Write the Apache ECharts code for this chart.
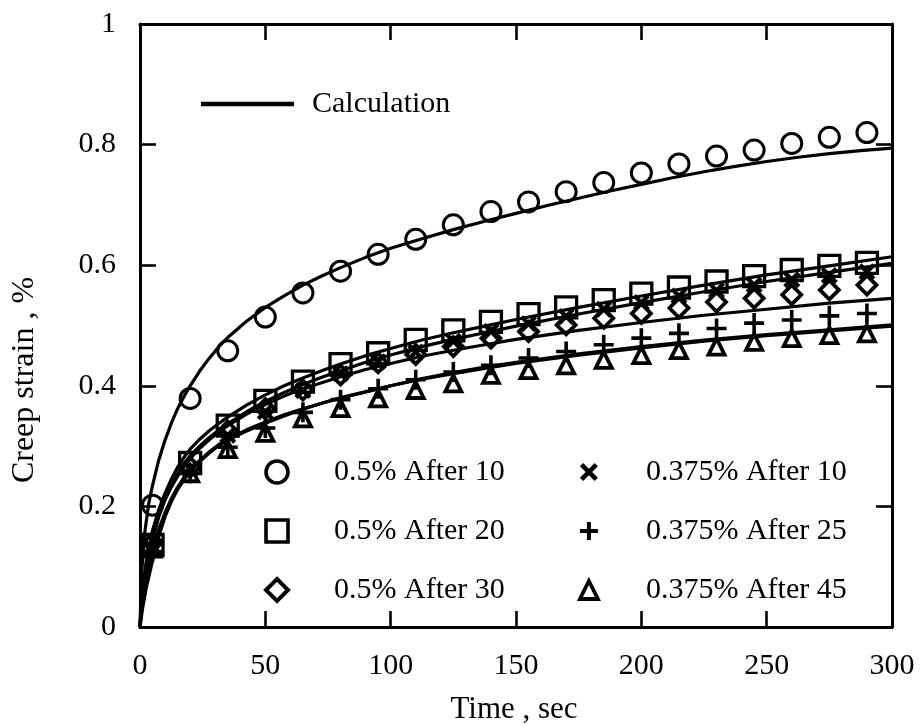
<!DOCTYPE html>
<html>
<head>
<meta charset="utf-8">
<script src="https://cdn.jsdelivr.net/npm/echarts@6/dist/echarts.min.js"></script>
<style>html,body{margin:0;padding:0;background:#fff;}#c{width:920px;height:725px;}</style>
</head>
<body>
<div id="c"></div>
<script>
// ---- data ----
const xTickLabels = ['0','50','100','150','200','250','300'];
const yTickLabels = ['0','0.2','0.4','0.6','0.8','1'];

const markerTimes = [5,20,35,50,65,80,95,110,125,140,155,170,185,200,215,230,245,260,275,290];

const names = ['0.5% After 10','0.5% After 20','0.5% After 30','0.375% After 10','0.375% After 25','0.375% After 45'];

const circleVals  = [0.202,0.379,0.458,0.514,0.554,0.590,0.618,0.643,0.667,0.689,0.705,0.722,0.737,0.753,0.768,0.781,0.791,0.802,0.812,0.820];
const squareVals  = [0.136,0.272,0.334,0.375,0.407,0.436,0.454,0.476,0.492,0.506,0.519,0.530,0.542,0.553,0.563,0.573,0.582,0.592,0.599,0.604];
const diamondVals = [0.140,0.265,0.325,0.362,0.393,0.418,0.438,0.452,0.465,0.479,0.490,0.501,0.512,0.520,0.529,0.539,0.545,0.551,0.559,0.567];
const crossVals   = [0.130,0.262,0.318,0.357,0.392,0.420,0.440,0.456,0.474,0.490,0.503,0.515,0.527,0.538,0.549,0.558,0.567,0.576,0.583,0.589];
const plusVals    = [0.125,0.255,0.298,0.330,0.356,0.377,0.395,0.410,0.423,0.434,0.446,0.457,0.468,0.479,0.487,0.495,0.504,0.509,0.516,0.520];
const triVals     = [0.130,0.255,0.295,0.322,0.346,0.363,0.379,0.393,0.404,0.418,0.426,0.434,0.443,0.451,0.459,0.465,0.473,0.479,0.484,0.487];

// calculation curves [time, strain]
const calc1 = [[0,0],[0.5,0.075],[1,0.11],[2,0.16],[3.5,0.205],[5,0.235],[7.5,0.277],[10,0.31],[12.5,0.338],[15,0.362],[17.5,0.382],[20,0.40],[23.75,0.424],[27.5,0.445],[31.25,0.464],[35,0.48],[42.5,0.507],[50,0.53],[57.5,0.549],[65,0.567],[72.5,0.582],[80,0.596],[90,0.613],[100,0.628],[112.5,0.644],[125,0.659],[137.5,0.673],[150,0.686],[162.5,0.699],[175,0.711],[187.5,0.723],[200,0.734],[212.5,0.745],[225,0.755],[237.5,0.764],[250,0.772],[262.5,0.779],[275,0.785],[287.5,0.790],[300,0.794]];
const calc2 = [[0,0],[0.5,0.035],[1,0.06],[2.5,0.11],[5,0.16],[7.5,0.195],[10,0.222],[12.5,0.245],[15,0.265],[17.5,0.281],[20,0.295],[23.75,0.311],[27.5,0.325],[31.25,0.337],[35,0.348],[42.5,0.368],[50,0.385],[57.5,0.4],[65,0.413],[72.5,0.425],[80,0.436],[90,0.45],[100,0.462],[112.5,0.476],[125,0.488],[137.5,0.499],[150,0.51],[175,0.53],[200,0.549],[225,0.567],[250,0.584],[275,0.599],[300,0.614]];
const calc3 = [[0,0],[0.5,0.032],[1,0.055],[2.5,0.1],[5,0.15],[7.5,0.185],[10,0.212],[12.5,0.234],[15,0.254],[17.5,0.27],[20,0.284],[23.75,0.3],[27.5,0.314],[31.25,0.326],[35,0.337],[42.5,0.357],[50,0.374],[57.5,0.389],[65,0.402],[72.5,0.414],[80,0.425],[90,0.439],[100,0.451],[112.5,0.465],[125,0.477],[137.5,0.488],[150,0.499],[175,0.519],[200,0.538],[225,0.556],[250,0.573],[275,0.588],[300,0.603]];
const calc4 = [[0,0],[0.5,0.028],[1,0.05],[2.5,0.095],[5,0.143],[7.5,0.183],[10,0.211],[12.5,0.232],[15,0.25],[17.5,0.265],[20,0.279],[23.75,0.296],[27.5,0.31],[31.25,0.323],[35,0.334],[42.5,0.353],[50,0.369],[57.5,0.383],[65,0.395],[72.5,0.405],[80,0.415],[90,0.427],[100,0.437],[112.5,0.449],[125,0.459],[137.5,0.468],[150,0.477],[175,0.492],[200,0.505],[225,0.517],[250,0.527],[275,0.537],[300,0.545]];
const calc5 = [[0,0],[0.5,0.015],[1,0.03],[2.5,0.065],[5,0.11],[7.5,0.15],[10,0.183],[12.5,0.208],[15,0.228],[17.5,0.244],[20,0.257],[23.75,0.274],[27.5,0.288],[31.25,0.3],[35,0.31],[42.5,0.325],[50,0.338],[57.5,0.35],[65,0.361],[72.5,0.371],[80,0.38],[90,0.39],[100,0.4],[112.5,0.412],[125,0.422],[137.5,0.431],[150,0.439],[175,0.453],[200,0.465],[225,0.476],[250,0.485],[275,0.493],[300,0.501]];
const calc6 = [[0,0],[0.5,0.022],[1,0.04],[2.5,0.08],[5,0.125],[7.5,0.162],[10,0.19],[12.5,0.213],[15,0.232],[17.5,0.247],[20,0.26],[23.75,0.276],[27.5,0.29],[31.25,0.302],[35,0.312],[42.5,0.327],[50,0.34],[57.5,0.352],[65,0.362],[72.5,0.371],[80,0.38],[90,0.39],[100,0.4],[112.5,0.411],[125,0.42],[137.5,0.429],[150,0.437],[175,0.451],[200,0.463],[225,0.474],[250,0.483],[275,0.491],[300,0.499]];

// ---- chart ----
const FONT = 'Liberation Serif';
const crossPath = 'path://M0,1.8 L1.8,0 L5,3.2 L8.2,0 L10,1.8 L6.8,5 L10,8.2 L8.2,10 L5,6.8 L1.8,10 L0,8.2 L3.2,5 Z';
const plusPath = 'path://M4.1,0 H5.9 V4.1 H10 V5.9 H5.9 V10 H4.1 V5.9 H0 V4.1 H4.1 Z';
const plusPathBold = 'path://M3.9,0 H6.1 V3.9 H10 V6.1 H6.1 V10 H3.9 V6.1 H0 V3.9 H3.9 Z';

function zip(vals){ return markerTimes.map((t,i)=>[t, vals[i]]); }

const hollow = (bw) => ({ color: 'rgba(255,255,255,0)', borderColor: '#000', borderWidth: bw, opacity: 1 });

const scatterDefs = [
  {name: names[0], data: circleVals, symbol: 'circle', size: 20, style: hollow(3)},
  {name: names[1], data: squareVals, symbol: 'rect', size: 21, style: hollow(3.3)},
  {name: names[2], data: diamondVals, symbol: 'diamond', size: 19, style: hollow(3.8)},
  {name: names[3], data: crossVals, symbol: crossPath, size: 17, style: {color: '#000', opacity: 1}},
  {name: names[4], data: plusVals, symbol: plusPath, size: 20, style: {color: '#000', opacity: 1}},
  {name: names[5], data: triVals, symbol: 'triangle', size: 16, style: hollow(3.8)}
];

const series = [];
[calc1,calc2,calc3,calc4,calc5,calc6].forEach(c => {
  series.push({
    name: 'Calculation', type: 'line', data: c, showSymbol: false, symbol: 'none',
    smooth: false,
    lineStyle: {color: '#000', width: 3.2, join: 'round', opacity: 1}, itemStyle: {color: '#000'},
    silent: true, z: 2
  });
});
scatterDefs.forEach(s => {
  series.push({
    name: s.name, type: 'scatter', data: zip(s.data), symbol: s.symbol, symbolSize: s.size,
    itemStyle: s.style, z: 3, silent: true
  });
});

const axisCommon = {
  type: 'value',
  axisLine: {show: true, onZero: false, lineStyle: {color: '#000', width: 3}},
  axisTick: {show: true, inside: true, length: 16, lineStyle: {color: '#000', width: 2.6}},
  splitLine: {show: false},
};

const legText = (pad) => ({fontFamily: FONT, fontSize: 30, color: '#000', padding: [0,0,0,pad], lineHeight: 30});
const hollowLeg = {color: 'rgba(255,255,255,0)', borderColor: '#000', borderWidth: 3.6, opacity: 1};

const option = {
  animation: false,
  backgroundColor: '#fff',
  textStyle: {fontFamily: FONT},
  grid: {left: 140, right: 28, top: 24, bottom: 98, containLabel: false},
  xAxis: [
    Object.assign({}, axisCommon, {
      position: 'bottom', min: 0, max: 300, interval: 50,
      axisLabel: {show: true, margin: 24, color: '#000', fontSize: 30, fontFamily: FONT,
        formatter: (v) => xTickLabels[Math.round(v/50)]}
    }),
    Object.assign({}, axisCommon, {
      position: 'top', min: 0, max: 300, interval: 50, axisLabel: {show: false}
    })
  ],
  yAxis: [
    Object.assign({}, axisCommon, {
      position: 'left', min: 0, max: 1, interval: 0.2,
      axisLabel: {show: true, margin: 24, color: '#000', fontSize: 30, fontFamily: FONT,
        formatter: (v) => yTickLabels[Math.round(v/0.2)]}
    }),
    Object.assign({}, axisCommon, {
      position: 'right', min: 0, max: 1, interval: 0.2, axisLabel: {show: false}
    })
  ],
  legend: [
    {
      data: ['Calculation'], left: 196, top: 84, orient: 'vertical',
      itemWidth: 93, itemHeight: 30, icon: 'path://M0,0 H100 V5 H0 Z',
      itemStyle: {color: '#000', borderWidth: 0, opacity: 1},
      textStyle: legText(13),
      selectedMode: false
    },
    {
      data: [
        {name: names[0], itemStyle: hollowLeg},
        {name: names[1], itemStyle: hollowLeg},
        {name: names[2], itemStyle: Object.assign({}, hollowLeg, {borderWidth: 4})}
      ],
      left: 259, top: 452, orient: 'vertical',
      itemWidth: 22, itemHeight: 22, itemGap: 29,
      textStyle: legText(41),
      selectedMode: false
    },
    {
      data: [
        {name: names[3], itemStyle: {color: '#000', borderWidth: 0, opacity: 1}},
        {name: names[4], icon: plusPathBold, itemStyle: {color: '#000', borderWidth: 0, opacity: 1}},
        {name: names[5], itemStyle: Object.assign({}, hollowLeg, {borderWidth: 3.8})}
      ],
      left: 573, top: 452, orient: 'vertical',
      itemWidth: 18, itemHeight: 18, itemGap: 29,
      textStyle: legText(43),
      selectedMode: false
    }
  ],
  graphic: [
    {type: 'text', x: 514, y: 710, style: {text: 'Time , sec', fontFamily: FONT, fontSize: 31, fill: '#000', textAlign: 'center', textVerticalAlign: 'middle'}},
    {type: 'text', x: 25, y: 380, rotation: Math.PI/2, style: {text: 'Creep strain , %', fontFamily: FONT, fontSize: 32, fill: '#000', textAlign: 'center', textVerticalAlign: 'middle'}}
  ],
  series: series
};

const chart = echarts.init(document.getElementById('c'), null, {renderer: 'canvas'});
chart.setOption(option);
</script>
</body>
</html>
